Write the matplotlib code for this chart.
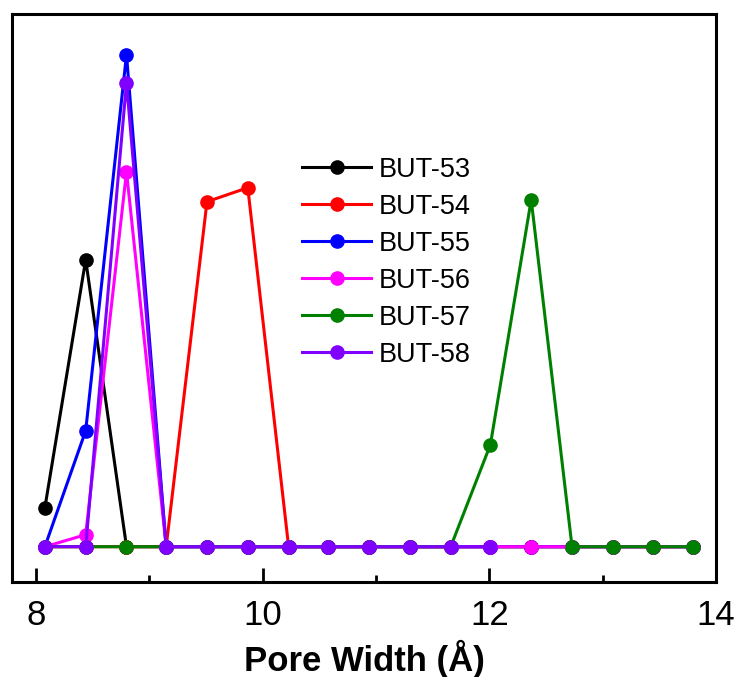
import matplotlib
matplotlib.use("Agg")
import matplotlib.pyplot as plt
from matplotlib.ticker import MultipleLocator, NullLocator

plt.rcParams['font.family'] = ['Liberation Sans', 'DejaVu Sans']

# Pore width grid (Å)
pore_width = [8.08, 8.44, 8.80, 9.15, 9.51, 9.87, 10.23, 10.58, 10.94,
              11.30, 11.66, 12.01, 12.37, 12.73, 13.09, 13.44, 13.80]

labels = ["BUT-53", "BUT-54", "BUT-55", "BUT-56", "BUT-57", "BUT-58"]
colors = ["#000000", "#FF0000", "#0000FF", "#FF00FF", "#008000", "#8000FF"]

but53 = [0.39, 2.87, 0, 0, 0, 0, 0, 0, 0, 0, 0, 0, 0, 0, 0, 0, 0]
but54 = [0, 0, 0, 0, 3.45, 3.59, 0, 0, 0, 0, 0, 0, 0, 0, 0, 0, 0]
but55 = [0, 1.16, 4.92, 0, 0, 0, 0, 0, 0, 0, 0, 0, 0, 0, 0, 0, 0]
but56 = [0, 0.12, 3.75, 0, 0, 0, 0, 0, 0, 0, 0, 0, 0, 0, 0, 0, 0]
but57 = [0, 0, 0, 0, 0, 0, 0, 0, 0, 0, 0, 1.02, 3.47, 0, 0, 0, 0]
but58 = [0, 0, 4.64, 0, 0, 0, 0, 0, 0, 0, 0, 0]  # measured up to 12.01 Å

series = [but53, but54, but55, but56, but57, but58]

fig = plt.figure(figsize=(7.37, 6.77), dpi=100)
ax = fig.add_axes([12/737, 1-582/677, (716-12)/737, (582-14)/677])

for lab, col, vals in zip(labels, colors, series):
    ax.plot(pore_width[:len(vals)], vals, '-o', color=col, lw=2.2,
            markersize=9.5, label=lab)

ax.set_xlim(7.79, 14.0)
ax.set_ylim(-0.353, 5.327)
ax.xaxis.set_major_locator(MultipleLocator(2))
ax.xaxis.set_minor_locator(MultipleLocator(1))
ax.yaxis.set_major_locator(NullLocator())
ax.tick_params(axis='x', which='major', direction='in', length=10, width=2,
               labelsize=25, pad=12)
ax.tick_params(axis='x', which='minor', direction='in', length=5, width=2)
for s in ax.spines.values():
    s.set_linewidth(2.2)

ax.set_xlabel("Pore Width (Å)", fontsize=25, fontweight='bold', labelpad=6)

leg = ax.legend(loc='upper left', bbox_to_anchor=(0.412, 0.7485), frameon=False,
                fontsize=19.5, handlelength=2.55, handletextpad=0.27,
                labelspacing=0.405, borderpad=0, borderaxespad=0)

fig.savefig("out.png", dpi=100)
